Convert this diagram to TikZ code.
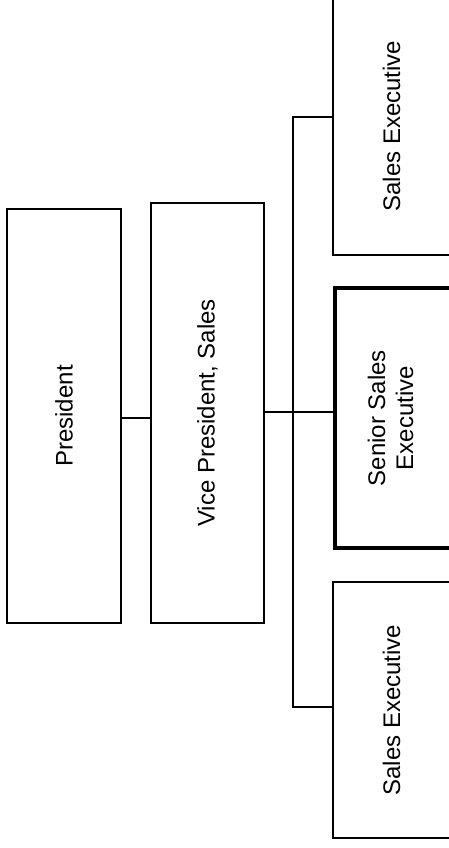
\documentclass[tikz,border=0pt]{standalone}
\usepackage{fontspec}
\setmainfont{Liberation Sans}
\begin{document}
\begin{tikzpicture}[x=1pt,y=-1pt,
  box/.style={draw,line width=1.5pt,inner sep=0pt,outer sep=0pt,rectangle},
  thickbox/.style={draw,line width=3.5pt,inner sep=0pt,outer sep=0pt,rectangle},
  conn/.style={line width=1.5pt}]
\useasboundingbox (0,0) rectangle (448,848);
\node[box,minimum width=114pt,minimum height=414pt] (pres) at (64,416)
  {\fontsize{24}{28}\selectfont\rotatebox{90}{President}};
\node[box,minimum width=113pt,minimum height=420pt] (vp) at (207.5,413)
  {\fontsize{24}{28}\selectfont\rotatebox{90}{Vice President, Sales}};
\node[box,minimum width=117pt,minimum height=258pt] (top) at (391.5,126)
  {\fontsize{24}{28}\selectfont\rotatebox{90}{Sales Executive}};
\node[thickbox,minimum width=117pt,minimum height=260pt] (sen) at (393.5,418)
  {\fontsize{24}{28}\selectfont\rotatebox{90}{\begin{tabular}{@{}c@{}}Senior Sales\\Executive\end{tabular}}\hspace{6pt}};
\node[box,minimum width=117pt,minimum height=256pt] (bot) at (391.5,710)
  {\fontsize{24}{28}\selectfont\rotatebox{90}{Sales Executive}};
\draw[conn] ([yshift=-2pt]pres.east) -- ([yshift=-2pt]pres.east -| vp.west);
\draw[conn] ([yshift=1pt]vp.east) -- ([yshift=1pt]vp.east -| sen.west);
\coordinate (j1) at (293,117);
\coordinate (j2) at (293,707);
\draw[conn] (j1 -| top.west) -- (j1) -- (j2) -- (j2 -| bot.west);
\end{tikzpicture}
\end{document}
